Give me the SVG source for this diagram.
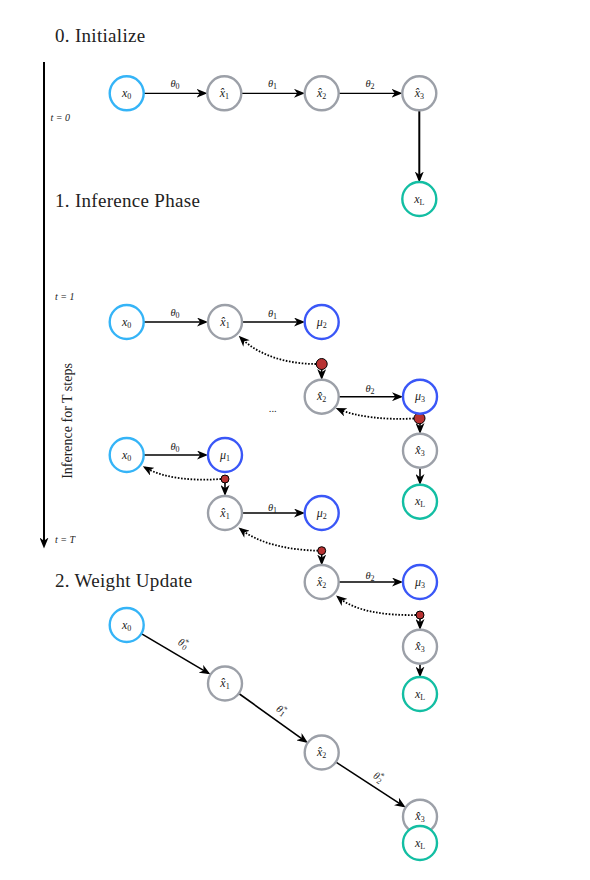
<svg xmlns="http://www.w3.org/2000/svg" width="590" height="880" viewBox="0 0 590 880">
<style>
.bg{fill:#fff}
.title{font-family:"Liberation Serif",serif;font-size:19px;letter-spacing:0.3px;fill:#222}
.tl{font-family:"Liberation Serif",serif;font-style:italic;font-size:10px;fill:#222}
.side{font-family:"Liberation Serif",serif;font-size:14px;fill:#222}
.node circle{fill:#fff;stroke-width:2.4}
.in circle{stroke:#35b4f7}
.hid circle{stroke:#9ca0a8}
.mu circle{stroke:#3a57f7}
.out circle{stroke:#13bea3}
.node text,.el{font-family:"Liberation Serif",serif;font-style:italic;font-size:12px;text-anchor:middle;fill:#222}
.el{font-size:10.5px}
.sub{font-style:normal;font-size:8px}
.a{stroke:#000;fill:none;stroke-width:1.6;marker-end:url(#st)}
.a0{stroke-width:1.2}
.d{stroke:#000;fill:none;stroke-width:1.8;stroke-dasharray:1.6 1.6;marker-end:url(#st)}
.dot{fill:#b83232;stroke:#000;stroke-width:1}
</style>
<defs>
<marker id="st" viewBox="0 0 11 9" refX="8.5" refY="4.5" markerWidth="11" markerHeight="9" orient="auto" markerUnits="userSpaceOnUse">
<path d="M0,0 L11,4.5 L0,9 L3.2,4.5 z" fill="#000"/>
</marker>
</defs>
<rect class="bg" x="0" y="0" width="590" height="880"/>

<g id="titles">
<text class="title" x="55" y="42">0. Initialize</text>
<text class="title" x="55" y="207">1. Inference Phase</text>
<text class="title" x="55" y="587">2. Weight Update</text>
</g>

<g id="timeline">
<line x1="44" y1="62" x2="44" y2="546" stroke="#000" stroke-width="2" marker-end="url(#st)"/>
<text class="tl" x="50.5" y="120.5">t = 0</text>
<text class="tl" x="55" y="299.5">t = 1</text>
<text class="tl" x="55" y="542.5">t = T</text>
<text class="side" transform="translate(72,421) rotate(-90)" text-anchor="middle">Inference for T steps</text>
</g>

<g id="connectors">
<line class="a a0" x1="144" y1="93.3" x2="205" y2="93.3"/>
<line class="a a0" x1="241.5" y1="93.3" x2="302.5" y2="93.3"/>
<line class="a a0" x1="339" y1="93.3" x2="400" y2="93.3"/>
<line class="a" style="stroke-width:2" x1="419.3" y1="110.5" x2="419.3" y2="180"/>
<line class="a" x1="144" y1="322" x2="205.5" y2="322"/>
<line class="a" x1="242" y1="322" x2="302.5" y2="322"/>
<line class="a" x1="321.7" y1="364" x2="321.7" y2="377.5"/>
<line class="a" x1="339" y1="396.7" x2="400.5" y2="396.7"/>
<line class="a" x1="420" y1="418" x2="420" y2="431.5"/>
<line class="a" x1="420" y1="468" x2="420" y2="482.5"/>
<path class="d" d="M316,364 C290,364 260,357 240.5,337.5"/>
<path class="d" d="M414,418.5 C385,420 357,417 338,409"/>
<line class="a" x1="144" y1="455" x2="205.5" y2="455"/>
<line class="a" x1="225" y1="479" x2="225" y2="493.5"/>
<line class="a" x1="242" y1="513" x2="302.5" y2="513"/>
<line class="a" x1="321.7" y1="550.7" x2="321.7" y2="563"/>
<line class="a" x1="339" y1="582" x2="400.5" y2="582"/>
<line class="a" x1="420" y1="615" x2="420" y2="627.5"/>
<line class="a" x1="420" y1="663.7" x2="420" y2="675"/>
<path class="d" d="M221,479 C195,481 165,479 145,467.5"/>
<path class="d" d="M318,550.7 C290,550 259,544 240.5,529"/>
<path class="d" d="M416,615 C386,615.5 356,612 338,597"/>
<line class="a" x1="141.3" y1="633.6" x2="208.2" y2="673.1"/>
<line class="a" x1="238.8" y1="693.5" x2="305.9" y2="741.6"/>
<line class="a" x1="336" y1="762.2" x2="403.6" y2="806.1"/>
</g>

<g id="connector-labels">
<text class="el" x="175" y="87">θ<tspan class="sub" dy="2">0</tspan></text>
<text class="el" x="272.5" y="87">θ<tspan class="sub" dy="2">1</tspan></text>
<text class="el" x="370" y="87">θ<tspan class="sub" dy="2">2</tspan></text>
<text class="el" x="175" y="316">θ<tspan class="sub" dy="2">0</tspan></text>
<text class="el" x="272.5" y="317">θ<tspan class="sub" dy="2">1</tspan></text>
<text class="el" x="370" y="392">θ<tspan class="sub" dy="2">2</tspan></text>
<text class="el" x="175" y="450">θ<tspan class="sub" dy="2">0</tspan></text>
<text class="el" x="272.5" y="510.5">θ<tspan class="sub" dy="2">1</tspan></text>
<text class="el" x="370" y="579">θ<tspan class="sub" dy="2">2</tspan></text>
<text class="el" transform="translate(181.5,646.5) rotate(30.5)">θ<tspan class="sub" dy="-4">*</tspan><tspan class="sub" dx="-3.5" dy="6">0</tspan></text>
<text class="el" transform="translate(279.5,713) rotate(35.9)">θ<tspan class="sub" dy="-4">*</tspan><tspan class="sub" dx="-3.5" dy="6">1</tspan></text>
<text class="el" transform="translate(376.5,780) rotate(33)">θ<tspan class="sub" dy="-4">*</tspan><tspan class="sub" dx="-3.5" dy="6">2</tspan></text>
<text class="el" x="273" y="412">...</text>
</g>

<g id="s0-x0" class="node in"><circle cx="126.7" cy="93.3" r="17"/><text x="126.7" y="96.8">x<tspan class="sub" dy="2">0</tspan></text></g>
<g id="s0-xh1" class="node hid"><circle cx="224.3" cy="93.3" r="17"/><text x="224.3" y="96.8">x̂<tspan class="sub" dy="2">1</tspan></text></g>
<g id="s0-xh2" class="node hid"><circle cx="321.7" cy="93.3" r="17"/><text x="321.7" y="96.8">x̂<tspan class="sub" dy="2">2</tspan></text></g>
<g id="s0-xh3" class="node hid"><circle cx="419.3" cy="93.3" r="17"/><text x="419.3" y="96.8">x̂<tspan class="sub" dy="2">3</tspan></text></g>
<g id="s0-xL" class="node out"><circle cx="419.3" cy="199" r="17"/><text x="419.3" y="202.5">x<tspan class="sub" dy="2">L</tspan></text></g>

<g id="dot-a"><circle class="dot" cx="321.7" cy="364" r="5.5"/></g>
<g id="dot-b"><circle class="dot" cx="419.5" cy="418.3" r="5.5"/></g>
<g id="s1-x0" class="node in"><circle cx="126.7" cy="322" r="17"/><text x="126.7" y="325.5">x<tspan class="sub" dy="2">0</tspan></text></g>
<g id="s1-xh1" class="node hid"><circle cx="225" cy="322" r="17"/><text x="225" y="325.5">x̂<tspan class="sub" dy="2">1</tspan></text></g>
<g id="s1-mu2" class="node mu"><circle cx="321.7" cy="322" r="17"/><text x="321.7" y="325.5">μ<tspan class="sub" dy="2">2</tspan></text></g>
<g id="s1-xh2" class="node hid"><circle cx="321.7" cy="396.7" r="17"/><text x="321.7" y="400.2">x̂<tspan class="sub" dy="2">2</tspan></text></g>
<g id="s1-mu3" class="node mu"><circle cx="420" cy="396.7" r="17"/><text x="420" y="400.2">μ<tspan class="sub" dy="2">3</tspan></text></g>
<g id="s1-xh3" class="node hid"><circle cx="420" cy="450.7" r="17"/><text x="420" y="454.2">x̂<tspan class="sub" dy="2">3</tspan></text></g>
<g id="s1-xL" class="node out"><circle cx="420" cy="501.7" r="17"/><text x="420" y="505.2">x<tspan class="sub" dy="2">L</tspan></text></g>

<g id="dot-c"><circle class="dot" cx="225" cy="479" r="4"/></g>
<g id="dot-d"><circle class="dot" cx="321.7" cy="550.7" r="4"/></g>
<g id="dot-e"><circle class="dot" cx="420" cy="615" r="4"/></g>
<g id="sT-x0" class="node in"><circle cx="126.7" cy="455" r="17"/><text x="126.7" y="458.5">x<tspan class="sub" dy="2">0</tspan></text></g>
<g id="sT-mu1" class="node mu"><circle cx="225" cy="455" r="17"/><text x="225" y="458.5">μ<tspan class="sub" dy="2">1</tspan></text></g>
<g id="sT-xh1" class="node hid"><circle cx="225" cy="513" r="17"/><text x="225" y="516.5">x̂<tspan class="sub" dy="2">1</tspan></text></g>
<g id="sT-mu2" class="node mu"><circle cx="321.7" cy="513" r="17"/><text x="321.7" y="516.5">μ<tspan class="sub" dy="2">2</tspan></text></g>
<g id="sT-xh2" class="node hid"><circle cx="321.7" cy="582" r="17"/><text x="321.7" y="585.5">x̂<tspan class="sub" dy="2">2</tspan></text></g>
<g id="sT-mu3" class="node mu"><circle cx="420" cy="582" r="17"/><text x="420" y="585.5">μ<tspan class="sub" dy="2">3</tspan></text></g>
<g id="sT-xh3" class="node hid"><circle cx="420" cy="646.7" r="17"/><text x="420" y="650.2">x̂<tspan class="sub" dy="2">3</tspan></text></g>
<g id="sT-xL" class="node out"><circle cx="420" cy="694" r="17"/><text x="420" y="697.5">x<tspan class="sub" dy="2">L</tspan></text></g>

<g id="s2-x0" class="node in"><circle cx="126.7" cy="625" r="17"/><text x="126.7" y="628.5">x<tspan class="sub" dy="2">0</tspan></text></g>
<g id="s2-xh1" class="node hid"><circle cx="225" cy="683.5" r="17"/><text x="225" y="687">x̂<tspan class="sub" dy="2">1</tspan></text></g>
<g id="s2-xh2" class="node hid"><circle cx="321.7" cy="752.5" r="17"/><text x="321.7" y="756">x̂<tspan class="sub" dy="2">2</tspan></text></g>
<g id="s2-xh3" class="node hid"><circle cx="420" cy="816.7" r="17"/><text x="420" y="820.2">x̂<tspan class="sub" dy="2">3</tspan></text></g>
<g id="s2-xL" class="node out"><circle cx="420" cy="843" r="17"/><text x="420" y="846.5">x<tspan class="sub" dy="2">L</tspan></text></g>
</svg>
